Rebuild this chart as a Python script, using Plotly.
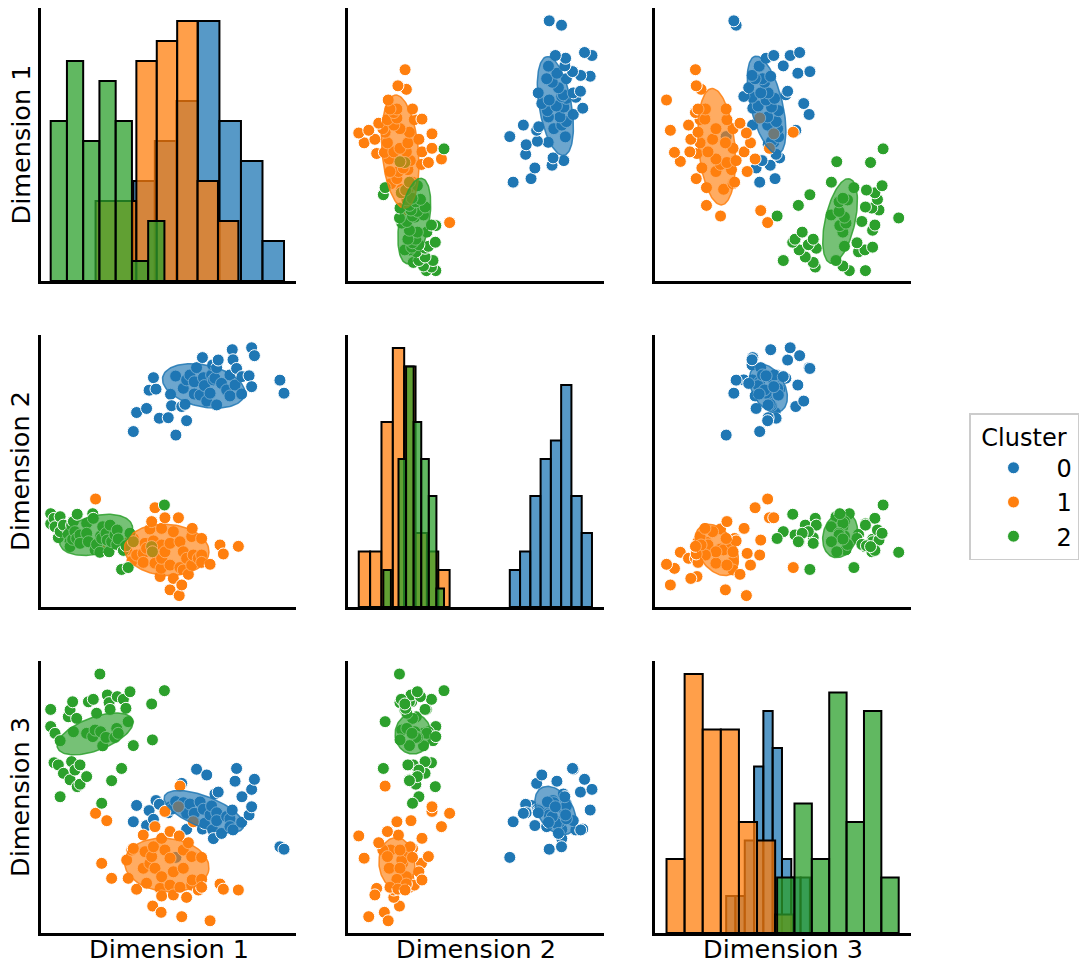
import numpy as np
import plotly.graph_objects as go
from plotly.subplots import make_subplots

W, H = 1088, 973
FONT = "DejaVu Sans"

dims = ["Dimension 1", "Dimension 2", "Dimension 3"]
cluster_names = ["0", "1", "2"]
colors = ["#1f77b4", "#ff7f0e", "#2ca02c"]

# ---- cluster 0 ----
c0_dim1 = [3.62, 3.75, 4.14, 4.24, 4.41, 4.51, 4.64, 4.99, 5.08, 5.12, 5.28, 5.29, 5.52, 5.58, 5.65, 5.71, 5.71,
           5.84, 6.01, 6.01, 6.10, 6.24, 6.33, 6.37, 6.41, 6.50, 6.63, 6.69, 6.73, 6.76, 6.82, 6.89, 6.89, 6.95,
           7.08, 7.28, 7.41, 7.41, 7.50, 7.53, 7.61, 7.67, 7.87, 7.88, 8.16, 8.26, 8.26, 8.37, 9.37, 9.53]
c0_dim2 = [6.45, 7.15, 7.30, 7.97, 8.43, 8.01, 6.94, 6.96, 7.82, 7.40, 8.49, 6.32, 7.37, 8.04, 7.45, 8.35, 6.85,
           8.53, 8.28, 7.83, 8.80, 7.79, 9.17, 8.43, 8.14, 7.57, 7.86, 8.53, 8.90, 8.35, 8.41, 7.43, 8.80, 9.08,
           8.22, 7.98, 8.53, 7.76, 9.46, 9.09, 8.16, 8.77, 7.83, 8.47, 8.50, 9.53, 8.10, 9.24, 8.34, 7.86]
c0_dim3 = [4.09, 4.69, 3.95, 4.50, 4.18, 4.87, 4.73, 4.42, 4.64, 4.55, 4.83, 2.78, 5.50, 4.79, 4.50, 3.81, 4.40,
           4.74, 4.09, 4.40, 6.02, 4.82, 3.82, 4.55, 4.03, 5.81, 4.34, 4.67, 3.79, 3.47, 5.11, 4.42, 4.13, 5.18,
           3.66, 4.28, 4.20, 3.91, 4.52, 3.79, 5.58, 6.05, 4.07, 5.01, 4.34, 5.28, 4.64, 5.65, 3.17, 3.08]

# ---- cluster 1 ----
c1_dim1 = [2.14, 2.38, 2.58, 2.77, 3.36, 3.42, 3.56, 3.62, 3.75, 4.01, 4.01, 4.08, 4.14, 4.27, 4.34, 4.38, 4.41,
           4.47, 4.47, 4.67, 4.71, 4.73, 4.73, 4.73, 4.86, 4.86, 5.06, 5.06, 5.06, 5.19, 5.19, 5.39, 5.42, 5.45,
           5.45, 5.52, 5.58, 5.58, 5.71, 5.78, 5.91, 5.91, 5.93, 5.97, 6.17, 6.30, 6.30, 6.30, 6.63, 7.02, 7.15, 7.74]
c1_dim2 = [3.97, 2.13, 2.46, 2.28, 2.10, 2.38, 1.67, 2.52, 1.91, 1.97, 1.64, 2.34, 2.16, 2.87, 3.14, 2.01, 2.43,
           3.65, 1.61, 1.12, 1.42, 2.89, 2.28, 1.79, 3.28, 2.03, 2.34, 1.54, 0.63, 2.77, 1.05, 3.28, 0.42, 2.40,
           1.45, 0.81, 2.03, 1.36, 1.79, 1.20, 2.59, 1.54, 2.89, 1.91, 1.79, 2.52, 1.91, 1.64, 1.57, 2.28, 1.95, 2.23]
c1_dim3 = [4.40, 2.56, 4.13, 2.01, 2.68, 2.01, 3.05, 3.11, 1.61, 3.60, 2.38, 2.99, 1.83, 2.56, 2.81, 0.99, 3.17,
           3.91, 2.38, 1.64, 0.76, 3.48, 2.07, 1.36, 4.47, 3.05, 1.76, 3.73, 2.75, 2.25, 1.40, 4.64, 3.57, 1.68,
           5.40, 0.60, 2.38, 3.05, 1.31, 3.32, 1.76, 2.81, 1.95, 4.09, 1.58, 2.78, 1.97, 1.68, 0.45, 1.80, 1.61, 1.58]

# ---- cluster 2 ----
c2_dim1 = [0.38, 0.38, 0.51, 0.55, 0.68, 0.75, 0.75, 0.88, 1.07, 1.14, 1.14, 1.20, 1.24, 1.27, 1.33, 1.40, 1.42,
           1.53, 1.53, 1.79, 1.79, 1.86, 2.03, 2.05, 2.12, 2.18, 2.31, 2.34, 2.38, 2.42, 2.55, 2.60, 2.67, 2.71,
           2.77, 2.90, 2.97, 2.99, 3.03, 3.16, 3.23, 3.33, 3.42, 3.49, 3.62, 4.34, 4.37, 4.84]
c2_dim2 = [3.43, 3.06, 3.26, 2.95, 2.55, 3.32, 2.77, 3.01, 2.67, 2.40, 2.22, 3.01, 2.49, 3.14, 2.77, 2.52, 3.41,
           2.65, 2.34, 3.08, 2.71, 2.40, 3.43, 3.26, 2.10, 2.30, 2.01, 2.61, 2.52, 2.95, 2.71, 2.46, 2.03, 3.01,
           2.40, 2.65, 2.30, 2.83, 2.50, 1.38, 2.08, 2.25, 1.45, 2.71, 2.40, 2.22, 2.03, 3.75]
c2_dim3 = [7.59, 8.22, 6.26, 7.34, 6.18, 7.07, 5.01, 5.87, 7.95, 5.63, 8.20, 6.30, 8.50, 7.40, 5.99, 7.89, 5.38,
           5.47, 6.18, 7.34, 5.75, 8.50, 7.22, 8.59, 7.46, 8.08, 9.52, 7.40, 4.77, 6.88, 7.19, 8.75, 8.47, 8.22,
           5.60, 7.19, 7.52, 8.69, 7.34, 6.05, 8.59, 8.26, 7.77, 8.87, 6.89, 8.42, 7.10, 8.91]

# histogram bin counts per cluster for Dimension 1, 2, 3
hist_bins_c0 = [7, 8, 9]
hist_bins_c1 = [7, 8, 7]
hist_bins_c2 = [7, 8, 7]

# cluster ellipses per panel: [centre x, centre y, semi-axis a, semi-axis b, angle deg] for clusters 0, 1, 2
ell_r1c2 = [[8.10, 6.41, 1.84, 0.63, 100.6], [2.04, 4.74, 2.08, 0.71, 95.3], [2.59, 2.20, 1.59, 0.58, 79.3]]
ell_r1c3 = [[4.36, 6.45, 1.84, 0.62, 104.4], [2.41, 4.92, 2.14, 0.71, 95.3], [7.23, 2.20, 1.59, 0.58, 76.3]]
ell_r2c1 = [[6.38, 8.13, 1.64, 0.77, -11.0], [4.93, 2.10, 1.66, 0.94, -3.0], [2.16, 2.65, 1.46, 0.70, 13.0]]
ell_r2c3 = [[4.43, 8.04, 0.97, 0.63, -58.0], [2.41, 2.10, 1.06, 0.70, -53.0], [7.23, 2.65, 0.86, 0.65, 69.0]]
ell_r3c1 = [[6.39, 4.46, 1.65, 0.57, -20.0], [4.93, 2.50, 1.66, 0.98, -5.0], [2.12, 7.32, 1.56, 0.61, 19.0]]
ell_r3c2 = [[8.10, 4.50, 1.00, 0.66, -53.0], [1.91, 2.56, 0.95, 0.70, 95.0], [2.54, 7.32, 0.74, 0.70, 90.0]]

data = [
    [c0_dim1, c0_dim2, c0_dim3],
    [c1_dim1, c1_dim2, c1_dim3],
    [c2_dim1, c2_dim2, c2_dim3],
]
hist_bins = [hist_bins_c0, hist_bins_c1, hist_bins_c2]
ellipses = {(1, 2): ell_r1c2, (1, 3): ell_r1c3, (2, 1): ell_r2c1,
            (2, 3): ell_r2c3, (3, 1): ell_r3c1, (3, 2): ell_r3c2}

DIM_RANGE = [0, 10]


def rgba(hex_color, a):
    h = hex_color.lstrip("#")
    r, g, b = int(h[0:2], 16), int(h[2:4], 16), int(h[4:6], 16)
    return f"rgba({r},{g},{b},{a})"


fig = make_subplots(rows=3, cols=3)

# ---------- panels ----------
for r in range(1, 4):
    for c in range(1, 4):
        yi, xi = r - 1, c - 1
        if r == c:
            ymax = 0
            for k in range(3):
                vals = np.asarray(data[k][xi], dtype=float)
                edges = np.linspace(vals.min(), vals.max(), hist_bins[k][xi] + 1)
                counts, _ = np.histogram(vals, bins=edges)
                ymax = max(ymax, counts.max())
                fig.add_trace(go.Bar(
                    x=(edges[:-1] + edges[1:]) / 2, y=counts, width=np.diff(edges),
                    marker=dict(color=rgba(colors[k], 0.75), line=dict(color="black", width=2)),
                    showlegend=False, hoverinfo="skip"), row=r, col=c)
            fig.update_yaxes(range=[0, ymax * 1.05], row=r, col=c)
        else:
            for k in range(3):
                fig.add_trace(go.Scatter(
                    x=data[k][xi], y=data[k][yi], mode="markers", name=cluster_names[k],
                    legendgroup=cluster_names[k], showlegend=(r == 2 and c == 1),
                    marker=dict(size=12, color=colors[k], line=dict(color="white", width=1))),
                    row=r, col=c)
            t = np.linspace(0, 2 * np.pi, 120)
            for k in range(3):
                cx, cy, a, b, ang = ellipses[(r, c)][k]
                th = np.deg2rad(ang)
                ex = cx + a * np.cos(th) * np.cos(t) - b * np.sin(th) * np.sin(t)
                ey = cy + a * np.sin(th) * np.cos(t) + b * np.cos(th) * np.sin(t)
                fig.add_trace(go.Scatter(
                    x=ex, y=ey, mode="lines", fill="toself", fillcolor=rgba(colors[k], 0.65),
                    line=dict(color=rgba(colors[k], 0.85), width=1.5),
                    showlegend=False, hoverinfo="skip"), row=r, col=c)
            fig.update_yaxes(range=DIM_RANGE, row=r, col=c)
        fig.update_xaxes(range=DIM_RANGE, row=r, col=c)

# ---------- layout / domains ----------
col_px = [(41, 296), (348, 604), (655, 911)]
row_px = [(8, 281), (335, 607), (661, 933)]
axis_style = dict(showline=True, linecolor="black", linewidth=2.5, showgrid=False, zeroline=False,
                  showticklabels=False, ticks="", mirror=False, fixedrange=True)
for r in range(1, 4):
    for c in range(1, 4):
        n = (r - 1) * 3 + c
        suffix = "" if n == 1 else str(n)
        x0, x1 = col_px[c - 1]
        y0, y1 = row_px[r - 1]
        fig.layout["xaxis" + suffix].update(domain=[x0 / W, x1 / W], **axis_style)
        fig.layout["yaxis" + suffix].update(domain=[1 - y1 / H, 1 - y0 / H], **axis_style)

annotations = []
for i, name in enumerate(dims):
    y0, y1 = row_px[i]
    annotations.append(dict(text=name, xref="paper", yref="paper", x=20 / W, y=1 - (y0 + y1) / 2 / H,
                            textangle=-90, showarrow=False, xanchor="center", yanchor="middle",
                            font=dict(size=25.5, family=FONT, color="black")))
    x0, x1 = col_px[i]
    annotations.append(dict(text=name, xref="paper", yref="paper", x=(x0 + x1) / 2 / W, y=1 - 949 / H,
                            showarrow=False, xanchor="center", yanchor="middle",
                            font=dict(size=25.5, family=FONT, color="black")))

fig.update_layout(
    width=W, height=H, margin=dict(l=0, r=0, t=0, b=0),
    paper_bgcolor="white", plot_bgcolor="white", barmode="overlay",
    font=dict(family=FONT, size=24, color="black"),
    annotations=annotations,
    legend=dict(x=969 / W, y=1 - 413 / H, xanchor="left", yanchor="top",
                bgcolor="white", bordercolor="#cccccc", borderwidth=1.5,
                font=dict(size=24, family=FONT, color="black"),
                title=dict(text="Cluster", side="top center", font=dict(size=24, family=FONT)),
                itemwidth=76, tracegroupgap=0),
)

fig.write_html("out.html", config={"displayModeBar": False},
               post_script="document.body.style.margin='0px';document.body.style.padding='0px';")
